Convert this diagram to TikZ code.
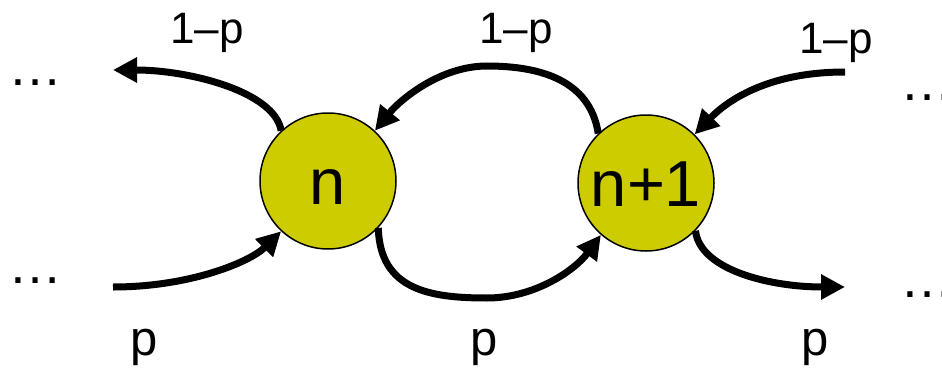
\documentclass[tikz,border=0pt]{standalone}
\usepackage{fontspec}
\setmainfont{Liberation Sans}
\usetikzlibrary{arrows.meta}
\definecolor{stateyellow}{RGB}{204,204,0}

\tikzset{every picture/.style={line width=0.75pt}}

\begin{document}
\begin{tikzpicture}[
            x=1pt,
            y=1pt,
            yscale=-1,
            xscale=1,
            state/.style={circle, draw=black, fill=stateyellow, line width=1.5pt, minimum size=136pt, inner sep=0pt, text height=46pt, text depth=0pt, font=\fontsize{65}{78}\selectfont},
            flow/.style={line width=7pt, -{Triangle[length=24pt,width=24pt]}},
            uplabel/.style={anchor=base, inner sep=0pt, font=\fontsize{44}{53}\selectfont},
            downlabel/.style={anchor=base, inner sep=0pt, font=\fontsize{49}{59}\selectfont},
            more/.style={anchor=base west, inner sep=0pt, font=\fontsize{54}{65}\selectfont}
        ]
            \useasboundingbox (0,0) rectangle (942,369);

            % states
            \node [state] (n) at (328,181) {n};
            \node [state] (n1) at (646,183) {n+1};

            % free ends
            \coordinate (lt) at (113,70);
            \coordinate (lb) at (113,287);
            \coordinate (rt) at (845,72);
            \coordinate (rb) at (845,287);

            % transitions
            \draw [flow] (n.133) .. controls (275,92) and (190,70) .. (lt);
            \draw [flow] (lb) .. controls (190,287) and (250,262) .. (n.227);
            \draw [flow] (n1.134) .. controls (590,80) and (540,66) .. (487,66) .. controls (440,66) and (400,100) .. (n.47);
            \draw [flow] (n.-43) .. controls (380,290) and (430,298) .. (487,298) .. controls (535,298) and (575,270) .. (n1.229);
            \draw [flow] (rt) .. controls (765,72) and (725,103) .. (n1.45);
            \draw [flow] (n1.-44) .. controls (700,270) and (770,287) .. (rb);

            % probabilities
            \node [uplabel] (qa) at (207,44) {1--p};
            \node [uplabel] (qb) at (516,44) {1--p};
            \node [uplabel] (qc) at (836,53) {1--p};
            \node [downlabel] (pa) at (144,355) {p};
            \node [downlabel] (pb) at (484,355) {p};
            \node [downlabel] (pc) at (815,355) {p};

            % ellipses
            \node [more] (dlt) at (8,85) {…};
            \node [more] (dlb) at (8,283) {…};
            \node [more] (drt) at (900,100) {…};
            \node [more] (drb) at (900,297) {…};
        \end{tikzpicture}
\end{document}
